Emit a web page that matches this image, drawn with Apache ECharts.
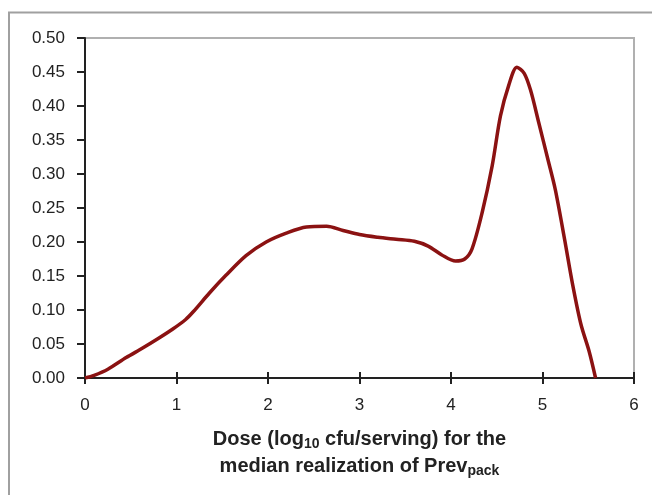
<!DOCTYPE html>
<html>
<head>
<meta charset="utf-8">
<script src="https://cdn.jsdelivr.net/npm/echarts@6/dist/echarts.min.js"></script>
<style>
html,body{margin:0;padding:0;background:#fff;}
#chart{width:652px;height:495px;}
</style>
</head>
<body>
<div id="chart"></div>
<script>
// Dose (log10 cfu/serving) and density values
const doseX = [0, 0.1, 0.25, 0.45, 0.63, 0.8, 0.96, 1.1, 1.18, 1.36, 1.54, 1.76, 1.98, 2.2, 2.42, 2.64, 2.82, 3.0, 3.2, 3.4, 3.6, 3.75, 3.9, 4.05, 4.15, 4.23, 4.34, 4.45, 4.54, 4.63, 4.72, 4.8, 4.87, 4.96, 5.06, 5.14, 5.24, 5.33, 5.42, 5.51, 5.58];
const density = [0, 0.004, 0.013, 0.03, 0.044, 0.058, 0.072, 0.086, 0.097, 0.125, 0.151, 0.180, 0.200, 0.213, 0.222, 0.223, 0.217, 0.211, 0.207, 0.204, 0.201, 0.194, 0.181, 0.172, 0.175, 0.19, 0.243, 0.312, 0.385, 0.43, 0.457, 0.448, 0.423, 0.375, 0.321, 0.277, 0.205, 0.137, 0.079, 0.039, 0.0];
const xTicks = [0, 1, 2, 3, 4, 5, 6];
const yTicks = [0.00, 0.05, 0.10, 0.15, 0.20, 0.25, 0.30, 0.35, 0.40, 0.45, 0.50];

const seriesData = doseX.map((x, i) => [x, density[i]]);
const font = '"Liberation Sans", Arial, sans-serif';

const chart = echarts.init(document.getElementById('chart'), null, {renderer: 'canvas'});
chart.setOption({
  animation: false,
  backgroundColor: '#fff',
  graphic: [{
    type: 'rect',
    shape: {x: 9, y: 12.5, width: 700, height: 600},
    style: {fill: 'none', stroke: '#a0a0a0', lineWidth: 2},
    z: -10
  }],
  grid: {
    left: 85, right: 18, top: 38, bottom: 117,
    show: true, borderColor: '#b0b0b0', borderWidth: 2, backgroundColor: 'transparent'
  },
  xAxis: [{
    type: 'value',
    min: xTicks[0], max: xTicks[xTicks.length - 1], interval: 1,
    axisLine: {show: true, lineStyle: {color: '#222', width: 2}},
    axisTick: {show: true, inside: false, length: 6, lineStyle: {color: '#222', width: 2}},
    splitLine: {show: false},
    axisLabel: {color: '#222', fontFamily: font, fontSize: 17, margin: 19},
    name: '{b|Dose (log}{s|10}{b| cfu/serving) for the}\n{b|median realization of Prev}{s|pack}',
    nameLocation: 'middle',
    nameGap: 48,
    nameTextStyle: {
      align: 'center',
      lineHeight: 27,
      rich: {
        b: {fontFamily: font, fontSize: 20, fontWeight: 'bold', color: '#222', lineHeight: 27},
        s: {fontFamily: font, fontSize: 14, fontWeight: 'bold', color: '#222', lineHeight: 27, padding: [10, 0, 0, 0]}
      }
    }
  }, {
    type: 'value',
    position: 'bottom',
    min: xTicks[0], max: xTicks[xTicks.length - 1], interval: 1,
    axisLine: {show: false},
    axisTick: {show: true, inside: true, length: 6, lineStyle: {color: '#222', width: 2}},
    splitLine: {show: false},
    axisLabel: {show: false}
  }],
  yAxis: {
    type: 'value',
    min: yTicks[0], max: yTicks[yTicks.length - 1], interval: 0.05,
    axisLine: {show: true, lineStyle: {color: '#222', width: 2}},
    axisTick: {show: true, inside: false, length: 8, lineStyle: {color: '#222', width: 2}},
    splitLine: {show: false},
    axisLabel: {color: '#222', fontFamily: font, fontSize: 17, margin: 20,
      formatter: v => v.toFixed(2)}
  },
  series: [{
    type: 'line',
    data: seriesData,
    smooth: 0.3,
    showSymbol: false,
    lineStyle: {color: '#8b1212', width: 3.5},
    z: 5
  }]
});
</script>
</body>
</html>
